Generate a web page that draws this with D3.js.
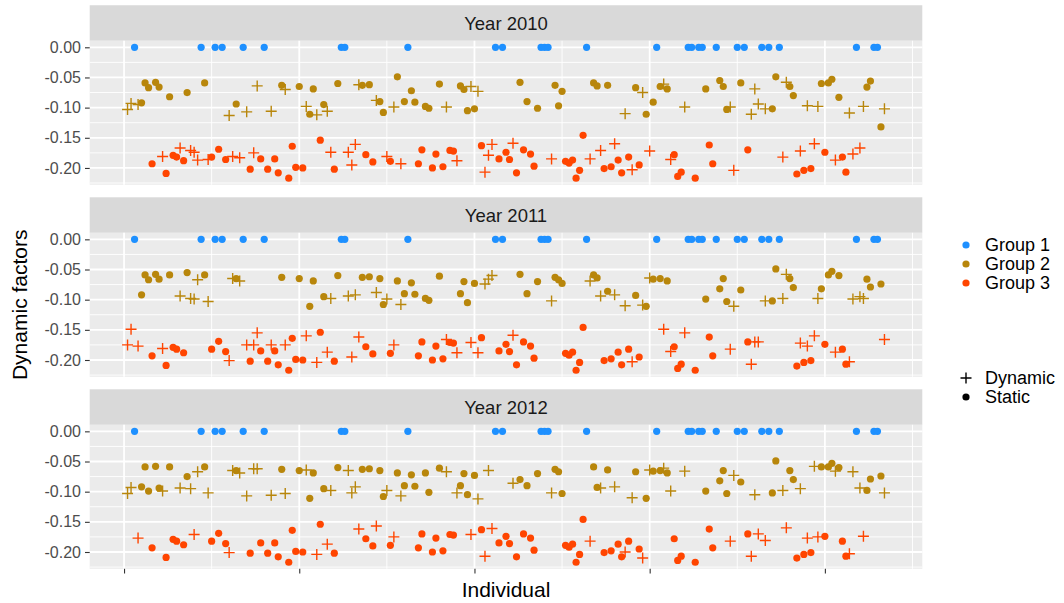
<!DOCTYPE html>
<html><head><meta charset="utf-8">
<script src="https://cdn.jsdelivr.net/npm/d3@7"></script>
<style>body{margin:0;background:#fff}svg{display:block}text{font-family:"Liberation Sans",Arial,sans-serif}</style>
</head><body><svg id="c" width="1064" height="603"></svg>
<script>
// ---------- data ----------
const years = ["Year 2010", "Year 2011", "Year 2012"];
const groupLabels = ["Group 1", "Group 2", "Group 3"];
const groupColors = ["#1E90FF", "#B8860B", "#FF4500"];
const shapeLabels = ["Dynamic", "Static"];
const yTicks = [0, -0.05, -0.10, -0.15, -0.20];
const xTicks = [0, 50, 100, 150, 200];
const xTitle = "Individual";
const yTitle = "Dynamic factors";

// [individual, group, type (D = Dynamic, S = Static), value]
const data2010 = [
[1,2,"D",-0.103],[2,2,"D",-0.093],[3,1,"S",0],[4,2,"D",-0.095],[5,2,"S",-0.092],[6,2,"S",-0.059],[7,2,"S",-0.067],[8,3,"S",-0.193],[9,2,"S",-0.058],[10,2,"S",-0.066],
[11,3,"D",-0.181],[12,3,"S",-0.209],[13,2,"S",-0.082],[14,3,"S",-0.179],[15,3,"S",-0.182],[16,3,"D",-0.167],[17,3,"S",-0.188],[18,2,"S",-0.075],[19,3,"D",-0.171],[20,3,"D",-0.174],
[21,3,"D",-0.187],[22,1,"S",0],[23,2,"S",-0.059],[24,3,"D",-0.186],[25,3,"S",-0.182],[26,1,"S",0],[27,3,"S",-0.169],[28,1,"S",0],[29,3,"S",-0.186],[30,2,"D",-0.113],
[31,3,"D",-0.181],[32,2,"S",-0.094],[33,3,"D",-0.183],[34,1,"S",0],[35,2,"D",-0.107],[36,3,"S",-0.202],[37,3,"D",-0.175],[38,2,"D",-0.064],[39,3,"S",-0.185],[40,1,"S",0],
[41,3,"S",-0.202],[42,2,"D",-0.106],[43,3,"S",-0.185],[44,3,"S",-0.208],[45,2,"S",-0.063],[46,2,"D",-0.070],[47,3,"S",-0.217],[48,3,"S",-0.164],[49,3,"S",-0.199],[50,2,"S",-0.065],
[51,3,"S",-0.200],[52,2,"D",-0.098],[53,2,"S",-0.111],[54,2,"S",-0.069],[55,2,"D",-0.112],[56,3,"S",-0.154],[57,2,"S",-0.095],[58,2,"D",-0.106],[59,3,"D",-0.174],[60,3,"S",-0.202],
[61,2,"S",-0.060],[62,1,"S",0],[63,1,"S",0],[64,3,"D",-0.174],[65,3,"D",-0.195],[66,3,"D",-0.161],[67,2,"D",-0.062],[68,2,"S",-0.063],[69,3,"S",-0.178],[70,2,"S",-0.062],
[71,3,"S",-0.190],[72,2,"D",-0.088],[73,2,"S",-0.090],[74,2,"S",-0.108],[75,3,"D",-0.181],[76,3,"S",-0.189],[77,2,"D",-0.099],[78,2,"S",-0.049],[79,3,"D",-0.193],[80,2,"S",-0.090],
[81,1,"S",0],[82,2,"S",-0.072],[83,2,"S",-0.091],[84,3,"S",-0.193],[85,3,"S",-0.170],[86,2,"S",-0.098],[87,2,"S",-0.101],[88,3,"S",-0.200],[89,3,"S",-0.177],[90,2,"S",-0.061],
[91,3,"S",-0.198],[92,2,"D",-0.099],[93,3,"S",-0.171],[94,3,"S",-0.172],[95,3,"D",-0.188],[96,2,"S",-0.064],[97,2,"S",-0.070],[98,2,"S",-0.105],[99,2,"D",-0.065],[100,2,"S",-0.102],
[101,2,"D",-0.073],[102,3,"S",-0.163],[103,3,"D",-0.207],[104,3,"D",-0.179],[105,3,"D",-0.161],[106,1,"S",0],[107,3,"S",-0.185],[108,1,"S",0],[109,3,"S",-0.174],[110,3,"S",-0.186],
[111,3,"D",-0.159],[112,3,"S",-0.208],[113,2,"S",-0.058],[114,3,"S",-0.170],[115,2,"S",-0.090],[116,3,"S",-0.177],[117,3,"S",-0.197],[118,2,"S",-0.101],[119,1,"S",0],[120,1,"S",0],
[121,1,"S",0],[122,3,"D",-0.185],[123,2,"S",-0.063],[124,2,"S",-0.097],[125,2,"S",-0.073],[126,3,"S",-0.189],[127,3,"S",-0.192],[128,3,"S",-0.187],[129,3,"S",-0.217],[130,3,"S",-0.204],
[131,3,"S",-0.146],[132,1,"S",0],[133,3,"D",-0.185],[134,2,"S",-0.059],[135,2,"S",-0.064],[136,3,"D",-0.171],[137,3,"S",-0.201],[138,2,"S",-0.063],[139,3,"S",-0.198],[140,3,"D",-0.160],
[141,3,"S",-0.187],[142,3,"S",-0.208],[143,2,"D",-0.110],[144,3,"S",-0.182],[145,3,"D",-0.203],[146,2,"S",-0.067],[147,3,"S",-0.195],[148,2,"D",-0.075],[149,2,"S",-0.111],[150,3,"D",-0.172],
[151,2,"S",-0.091],[152,1,"S",0],[153,2,"S",-0.065],[154,2,"D",-0.061],[155,2,"S",-0.069],[156,3,"D",-0.186],[157,3,"S",-0.178],[158,3,"S",-0.214],[159,3,"S",-0.207],[160,2,"D",-0.099],
[161,1,"S",0],[162,1,"S",0],[163,3,"S",-0.217],[164,1,"S",0],[165,1,"S",0],[166,2,"S",-0.069],[167,3,"S",-0.162],[168,3,"S",-0.193],[169,1,"S",0],[170,2,"S",-0.055],
[171,2,"S",-0.065],[172,2,"S",-0.103],[173,2,"D",-0.099],[174,3,"D",-0.204],[175,1,"S",0],[176,2,"S",-0.059],[177,1,"S",0],[178,3,"S",-0.170],[179,2,"D",-0.111],[180,2,"D",-0.069],
[181,2,"D",-0.094],[182,1,"S",0],[183,2,"D",-0.102],[184,1,"S",0],[185,2,"S",-0.102],[186,2,"S",-0.049],[187,1,"S",0],[188,3,"D",-0.182],[189,2,"D",-0.058],[190,2,"S",-0.065],
[191,2,"S",-0.080],[192,3,"S",-0.210],[193,3,"D",-0.172],[194,3,"S",-0.204],[195,2,"D",-0.097],[196,3,"S",-0.201],[197,3,"D",-0.160],[198,2,"D",-0.098],[199,2,"S",-0.060],[200,3,"S",-0.174],
[201,2,"S",-0.059],[202,2,"S",-0.053],[203,3,"D",-0.187],[204,2,"S",-0.083],[205,3,"S",-0.182],[206,3,"S",-0.207],[207,2,"D",-0.109],[208,3,"D",-0.177],[209,1,"S",0],[210,3,"D",-0.167],
[211,2,"D",-0.098],[212,2,"S",-0.066],[213,2,"S",-0.056],[214,1,"S",0],[215,1,"S",0],[216,2,"S",-0.132],[217,2,"D",-0.102]
];

const data2011 = [
[1,3,"D",-0.175],[2,3,"D",-0.149],[3,1,"S",0],[4,3,"D",-0.177],[5,2,"S",-0.092],[6,2,"S",-0.059],[7,2,"S",-0.067],[8,3,"S",-0.193],[9,2,"S",-0.058],[10,2,"S",-0.066],
[11,3,"D",-0.181],[12,3,"S",-0.209],[13,2,"S",-0.059],[14,3,"S",-0.179],[15,3,"S",-0.182],[16,2,"D",-0.094],[17,3,"S",-0.188],[18,2,"S",-0.055],[19,2,"D",-0.098],[20,2,"D",-0.099],
[21,2,"D",-0.067],[22,1,"S",0],[23,2,"S",-0.059],[24,2,"D",-0.103],[25,3,"S",-0.182],[26,1,"S",0],[27,3,"S",-0.169],[28,1,"S",0],[29,3,"S",-0.186],[30,3,"D",-0.201],
[31,2,"D",-0.065],[32,2,"S",-0.065],[33,2,"D",-0.069],[34,1,"S",0],[35,3,"D",-0.175],[36,3,"S",-0.202],[37,3,"D",-0.175],[38,3,"D",-0.155],[39,3,"S",-0.185],[40,1,"S",0],
[41,3,"S",-0.202],[42,3,"D",-0.175],[43,3,"S",-0.185],[44,3,"S",-0.208],[45,2,"S",-0.063],[46,3,"D",-0.175],[47,3,"S",-0.217],[48,3,"S",-0.164],[49,3,"S",-0.199],[50,2,"S",-0.065],
[51,3,"S",-0.200],[52,3,"D",-0.160],[53,2,"S",-0.111],[54,2,"S",-0.069],[55,3,"D",-0.204],[56,3,"S",-0.154],[57,2,"S",-0.095],[58,3,"D",-0.187],[59,2,"D",-0.098],[60,3,"S",-0.202],
[61,2,"S",-0.060],[62,1,"S",0],[63,1,"S",0],[64,2,"D",-0.094],[65,3,"D",-0.195],[66,2,"D",-0.092],[67,3,"D",-0.162],[68,2,"S",-0.063],[69,3,"S",-0.178],[70,2,"S",-0.062],
[71,3,"S",-0.190],[72,2,"D",-0.088],[73,2,"S",-0.065],[74,2,"S",-0.108],[75,2,"D",-0.099],[76,3,"S",-0.189],[77,3,"D",-0.175],[78,2,"S",-0.069],[79,2,"D",-0.108],[80,2,"S",-0.090],
[81,1,"S",0],[82,2,"S",-0.072],[83,2,"S",-0.091],[84,3,"S",-0.193],[85,3,"S",-0.170],[86,2,"S",-0.098],[87,2,"S",-0.101],[88,3,"S",-0.200],[89,3,"S",-0.177],[90,2,"S",-0.061],
[91,3,"S",-0.198],[92,3,"D",-0.166],[93,3,"S",-0.171],[94,3,"S",-0.172],[95,3,"D",-0.188],[96,2,"S",-0.090],[97,2,"S",-0.070],[98,2,"S",-0.105],[99,3,"D",-0.171],[100,2,"S",-0.073],
[101,3,"D",-0.188],[102,3,"S",-0.163],[103,2,"D",-0.074],[104,2,"D",-0.066],[105,2,"D",-0.060],[106,1,"S",0],[107,3,"S",-0.185],[108,1,"S",0],[109,3,"S",-0.174],[110,3,"S",-0.186],
[111,3,"D",-0.159],[112,3,"S",-0.208],[113,2,"S",-0.058],[114,3,"S",-0.170],[115,2,"S",-0.090],[116,3,"S",-0.177],[117,3,"S",-0.197],[118,2,"S",-0.070],[119,1,"S",0],[120,1,"S",0],
[121,1,"S",0],[122,2,"D",-0.102],[123,2,"S",-0.063],[124,2,"S",-0.067],[125,2,"S",-0.073],[126,3,"S",-0.189],[127,3,"S",-0.192],[128,3,"S",-0.187],[129,3,"S",-0.217],[130,3,"S",-0.204],
[131,3,"S",-0.146],[132,1,"S",0],[133,2,"D",-0.069],[134,2,"S",-0.059],[135,2,"S",-0.064],[136,2,"D",-0.094],[137,3,"S",-0.201],[138,2,"S",-0.086],[139,3,"S",-0.198],[140,2,"D",-0.092],
[141,3,"S",-0.187],[142,3,"S",-0.208],[143,2,"D",-0.110],[144,3,"S",-0.182],[145,3,"D",-0.203],[146,2,"S",-0.093],[147,3,"S",-0.195],[148,2,"D",-0.109],[149,2,"S",-0.111],[150,2,"D",-0.064],
[151,2,"S",-0.066],[152,1,"S",0],[153,2,"S",-0.065],[154,3,"D",-0.149],[155,2,"S",-0.069],[156,3,"D",-0.186],[157,3,"S",-0.178],[158,3,"S",-0.214],[159,3,"S",-0.207],[160,3,"D",-0.155],
[161,1,"S",0],[162,1,"S",0],[163,3,"S",-0.217],[164,1,"S",0],[165,1,"S",0],[166,2,"S",-0.099],[167,3,"S",-0.162],[168,3,"S",-0.193],[169,1,"S",0],[170,2,"S",-0.082],
[171,2,"S",-0.065],[172,2,"S",-0.103],[173,3,"D",-0.182],[174,2,"D",-0.111],[175,1,"S",0],[176,2,"S",-0.084],[177,1,"S",0],[178,3,"S",-0.170],[179,3,"D",-0.207],[180,3,"D",-0.170],
[181,3,"D",-0.170],[182,1,"S",0],[183,2,"D",-0.102],[184,1,"S",0],[185,2,"S",-0.102],[186,2,"S",-0.049],[187,1,"S",0],[188,2,"D",-0.098],[189,2,"D",-0.058],[190,2,"S",-0.065],
[191,2,"S",-0.080],[192,3,"S",-0.210],[193,3,"D",-0.172],[194,3,"S",-0.204],[195,3,"D",-0.177],[196,3,"S",-0.201],[197,3,"D",-0.160],[198,2,"D",-0.098],[199,2,"S",-0.082],[200,3,"S",-0.174],
[201,2,"S",-0.059],[202,2,"S",-0.053],[203,3,"D",-0.187],[204,2,"S",-0.060],[205,3,"S",-0.182],[206,3,"S",-0.207],[207,3,"D",-0.203],[208,2,"D",-0.099],[209,1,"S",0],[210,2,"D",-0.095],
[211,2,"D",-0.098],[212,2,"S",-0.066],[213,2,"S",-0.079],[214,1,"S",0],[215,1,"S",0],[216,2,"S",-0.074],[217,3,"D",-0.166]
];

const data2012 = [
[1,2,"D",-0.103],[2,2,"D",-0.093],[3,1,"S",0],[4,3,"D",-0.177],[5,2,"S",-0.092],[6,2,"S",-0.059],[7,2,"S",-0.099],[8,3,"S",-0.193],[9,2,"S",-0.058],[10,2,"S",-0.094],
[11,2,"D",-0.099],[12,3,"S",-0.209],[13,2,"S",-0.059],[14,3,"S",-0.179],[15,3,"S",-0.182],[16,2,"D",-0.094],[17,3,"S",-0.188],[18,2,"S",-0.075],[19,2,"D",-0.095],[20,3,"D",-0.171],
[21,2,"D",-0.067],[22,1,"S",0],[23,2,"S",-0.059],[24,2,"D",-0.102],[25,3,"S",-0.182],[26,1,"S",0],[27,3,"S",-0.169],[28,1,"S",0],[29,3,"S",-0.186],[30,3,"D",-0.201],
[31,2,"D",-0.065],[32,2,"S",-0.065],[33,2,"D",-0.069],[34,1,"S",0],[35,2,"D",-0.107],[36,3,"S",-0.202],[37,2,"D",-0.062],[38,2,"D",-0.062],[39,3,"S",-0.185],[40,1,"S",0],
[41,3,"S",-0.202],[42,2,"D",-0.106],[43,3,"S",-0.185],[44,3,"S",-0.208],[45,2,"S",-0.063],[46,2,"D",-0.103],[47,3,"S",-0.217],[48,3,"S",-0.164],[49,3,"S",-0.199],[50,2,"S",-0.065],
[51,3,"S",-0.200],[52,2,"D",-0.064],[53,2,"S",-0.111],[54,2,"S",-0.069],[55,3,"D",-0.204],[56,3,"S",-0.154],[57,2,"S",-0.095],[58,3,"D",-0.187],[59,2,"D",-0.098],[60,3,"S",-0.202],
[61,2,"S",-0.060],[62,1,"S",0],[63,1,"S",0],[64,2,"D",-0.065],[65,2,"D",-0.102],[66,2,"D",-0.092],[67,3,"D",-0.162],[68,2,"S",-0.063],[69,3,"S",-0.178],[70,2,"S",-0.062],
[71,3,"S",-0.190],[72,3,"D",-0.157],[73,2,"S",-0.065],[74,2,"S",-0.108],[75,2,"D",-0.098],[76,3,"S",-0.189],[77,3,"D",-0.175],[78,2,"S",-0.069],[79,2,"D",-0.107],[80,2,"S",-0.090],
[81,1,"S",0],[82,2,"S",-0.072],[83,2,"S",-0.091],[84,3,"S",-0.193],[85,3,"S",-0.170],[86,2,"S",-0.069],[87,2,"S",-0.101],[88,3,"S",-0.200],[89,3,"S",-0.177],[90,2,"S",-0.061],
[91,3,"S",-0.198],[92,2,"D",-0.067],[93,3,"S",-0.171],[94,3,"S",-0.172],[95,2,"D",-0.102],[96,2,"S",-0.090],[97,2,"S",-0.070],[98,2,"S",-0.105],[99,3,"D",-0.171],[100,2,"S",-0.073],
[101,2,"D",-0.112],[102,3,"S",-0.163],[103,3,"D",-0.207],[104,2,"D",-0.065],[105,3,"D",-0.161],[106,1,"S",0],[107,3,"S",-0.185],[108,1,"S",0],[109,3,"S",-0.174],[110,3,"S",-0.186],
[111,2,"D",-0.086],[112,3,"S",-0.208],[113,2,"S",-0.080],[114,3,"S",-0.170],[115,2,"S",-0.090],[116,3,"S",-0.177],[117,3,"S",-0.197],[118,2,"S",-0.070],[119,1,"S",0],[120,1,"S",0],
[121,1,"S",0],[122,2,"D",-0.102],[123,2,"S",-0.063],[124,2,"S",-0.067],[125,2,"S",-0.103],[126,3,"S",-0.189],[127,3,"S",-0.192],[128,3,"S",-0.187],[129,3,"S",-0.217],[130,3,"S",-0.204],
[131,3,"S",-0.146],[132,1,"S",0],[133,3,"D",-0.182],[134,2,"S",-0.059],[135,2,"S",-0.093],[136,2,"D",-0.094],[137,3,"S",-0.201],[138,2,"S",-0.064],[139,3,"S",-0.198],[140,2,"D",-0.092],
[141,3,"S",-0.187],[142,3,"S",-0.208],[143,3,"D",-0.200],[144,3,"S",-0.182],[145,2,"D",-0.110],[146,2,"S",-0.067],[147,3,"S",-0.195],[148,3,"D",-0.210],[149,2,"S",-0.111],[150,2,"D",-0.064],
[151,2,"S",-0.066],[152,1,"S",0],[153,2,"S",-0.065],[154,2,"D",-0.061],[155,2,"S",-0.069],[156,2,"D",-0.099],[157,3,"S",-0.178],[158,3,"S",-0.214],[159,3,"S",-0.207],[160,2,"D",-0.066],
[161,1,"S",0],[162,1,"S",0],[163,3,"S",-0.217],[164,1,"S",0],[165,1,"S",0],[166,2,"S",-0.099],[167,3,"S",-0.162],[168,3,"S",-0.193],[169,1,"S",0],[170,2,"S",-0.082],
[171,2,"S",-0.065],[172,2,"S",-0.103],[173,3,"D",-0.182],[174,2,"D",-0.073],[175,1,"S",0],[176,2,"S",-0.084],[177,1,"S",0],[178,3,"S",-0.170],[179,3,"D",-0.207],[180,2,"D",-0.105],
[181,3,"D",-0.170],[182,1,"S",0],[183,3,"D",-0.181],[184,1,"S",0],[185,2,"S",-0.102],[186,2,"S",-0.049],[187,1,"S",0],[188,2,"D",-0.098],[189,3,"D",-0.160],[190,2,"S",-0.065],
[191,2,"S",-0.080],[192,3,"S",-0.210],[193,2,"D",-0.095],[194,3,"S",-0.204],[195,3,"D",-0.177],[196,3,"S",-0.201],[197,2,"D",-0.058],[198,3,"D",-0.175],[199,2,"S",-0.059],[200,3,"S",-0.174],
[201,2,"S",-0.059],[202,2,"S",-0.053],[203,2,"D",-0.066],[204,2,"S",-0.060],[205,3,"S",-0.182],[206,3,"S",-0.207],[207,3,"D",-0.203],[208,2,"D",-0.067],[209,1,"S",0],[210,2,"D",-0.094],
[211,3,"D",-0.174],[212,2,"S",-0.098],[213,2,"S",-0.079],[214,1,"S",0],[215,1,"S",0],[216,2,"S",-0.074],[217,2,"D",-0.102]
];

const panels = [data2010, data2011, data2012];

// ---------- layout ----------
const svg = d3.select("#c");
const left = 89.7, right = 922.3;
const panelTops = [40.75, 232.8, 424.8];
const panelH = 144, stripH = 35.5;
const font = '"Liberation Sans", Arial, sans-serif';

const allIds = panels.flat().map(d => d[0]);
const allVals = panels.flat().map(d => d[3]);
const xMin = d3.min(allIds), xMax = d3.max(allIds);
const xPad = 0.05 * (xMax - xMin);
const x = d3.scaleLinear().domain([xMin - xPad, xMax + xPad]).range([left, right]);
const yMin = d3.min(allVals), yMax = d3.max(allVals);
const yPad = 0.05 * (yMax - yMin);

const color = d3.scaleOrdinal().domain([1, 2, 3]).range(groupColors);
const plusPath = "M-5.5,0H5.5M0,-5.5V5.5";

const xMinor = [25, 75, 125, 175, 225].filter(v => v > x.domain()[0] && v < x.domain()[1]);
const yMinor = [0.025, -0.025, -0.075, -0.125, -0.175, -0.225];

panels.forEach((data, i) => {
  const top = panelTops[i];
  const y = d3.scaleLinear().domain([yMin - yPad, yMax + yPad]).range([top + panelH, top]);
  const g = svg.append("g");

  // strip
  g.append("rect").attr("x", left).attr("y", top - stripH).attr("width", right - left)
    .attr("height", stripH).attr("fill", "#D9D9D9");
  g.append("text").attr("x", (left + right) / 2).attr("y", top - stripH / 2)
    .attr("text-anchor", "middle").attr("dominant-baseline", "central")
    .attr("font-size", 18.5).attr("fill", "#1A1A1A").text(years[i]);

  // panel background
  g.append("rect").attr("x", left).attr("y", top).attr("width", right - left)
    .attr("height", panelH).attr("fill", "#EBEBEB");

  const yMinorIn = yMinor.filter(v => v > y.domain()[0] && v < y.domain()[1]);
  g.selectAll(".ymin").data(yMinorIn).join("line")
    .attr("x1", left).attr("x2", right).attr("y1", d => y(d)).attr("y2", d => y(d))
    .attr("stroke", "#fff").attr("stroke-width", 0.9);
  g.selectAll(".xmin").data(xMinor).join("line")
    .attr("y1", top).attr("y2", top + panelH).attr("x1", d => x(d)).attr("x2", d => x(d))
    .attr("stroke", "#fff").attr("stroke-width", 0.9);
  g.selectAll(".ymaj").data(yTicks).join("line")
    .attr("x1", left).attr("x2", right).attr("y1", d => y(d)).attr("y2", d => y(d))
    .attr("stroke", "#fff").attr("stroke-width", 1.8);
  g.selectAll(".xmaj").data(xTicks).join("line")
    .attr("y1", top).attr("y2", top + panelH).attr("x1", d => x(d)).attr("x2", d => x(d))
    .attr("stroke", "#fff").attr("stroke-width", 1.8);

  // y axis
  const ya = d3.axisLeft(y).tickValues(yTicks).tickFormat(d => d.toFixed(2))
    .tickSizeInner(4.7).tickSizeOuter(0).tickPadding(4);
  const yg = g.append("g").attr("transform", `translate(${left},0)`).call(ya);
  yg.select(".domain").remove();
  yg.selectAll(".tick line").attr("stroke", "#333").attr("stroke-width", 1.1);
  yg.selectAll(".tick text").attr("fill", "#4D4D4D").attr("font-size", 16).attr("font-family", font);

  // points
  const pts = g.append("g");
  pts.selectAll("circle").data(data.filter(d => d[2] === "S")).join("circle")
    .attr("cx", d => x(d[0])).attr("cy", d => y(d[3])).attr("r", 3.6)
    .attr("fill", d => color(d[1]));
  pts.selectAll("path").data(data.filter(d => d[2] === "D")).join("path")
    .attr("transform", d => `translate(${x(d[0])},${y(d[3])})`)
    .attr("d", plusPath).attr("fill", "none")
    .attr("stroke", d => color(d[1])).attr("stroke-width", 1.4);

  // x axis ticks (no labels) on the bottom panel
  if (i === panels.length - 1) {
    const xa = d3.axisBottom(x).tickValues(xTicks).tickFormat("").tickSizeInner(4.7).tickSizeOuter(0);
    const xg = g.append("g").attr("transform", `translate(0,${top + panelH})`).call(xa);
    xg.select(".domain").remove();
    xg.selectAll(".tick line").attr("stroke", "#333").attr("stroke-width", 1.1);
  }
});

// axis titles
svg.append("text").attr("x", (left + right) / 2).attr("y", 589)
  .attr("text-anchor", "middle").attr("dominant-baseline", "central")
  .attr("font-size", 21).attr("fill", "#000").text(xTitle);
svg.append("text").attr("transform", `translate(19,${(panelTops[0] + panelTops[2] + panelH) / 2}) rotate(-90)`)
  .attr("text-anchor", "middle").attr("dominant-baseline", "central")
  .attr("font-size", 21).attr("fill", "#000").text(yTitle);

// legends
const legX = 966, legTextX = 985;
const lg = svg.append("g");
const groupY = [245, 264, 283];
groupLabels.forEach((lab, k) => {
  lg.append("circle").attr("cx", legX).attr("cy", groupY[k]).attr("r", 3.6).attr("fill", groupColors[k]);
  lg.append("text").attr("x", legTextX).attr("y", groupY[k]).attr("dominant-baseline", "central")
    .attr("font-size", 18).attr("fill", "#000").text(lab);
});
const shapeY = [378, 397];
lg.append("path").attr("transform", `translate(${legX},${shapeY[0]})`).attr("d", plusPath)
  .attr("stroke", "#000").attr("stroke-width", 1.4).attr("fill", "none");
lg.append("circle").attr("cx", legX).attr("cy", shapeY[1]).attr("r", 3.6).attr("fill", "#000");
shapeLabels.forEach((lab, k) => {
  lg.append("text").attr("x", legTextX).attr("y", shapeY[k]).attr("dominant-baseline", "central")
    .attr("font-size", 18).attr("fill", "#000").text(lab);
});
</script></body></html>
